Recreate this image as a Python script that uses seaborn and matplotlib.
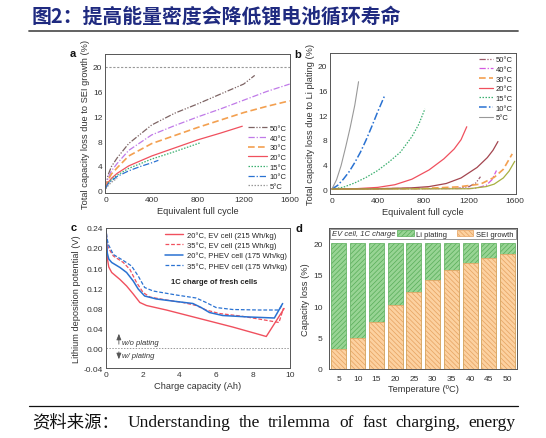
import matplotlib
matplotlib.use('Agg')
import matplotlib.pyplot as plt
import seaborn as sns
import numpy as np
import pandas as pd
from matplotlib.patches import Patch, Rectangle
from matplotlib.lines import Line2D
from matplotlib.ticker import MultipleLocator, FormatStrFormatter

# ---------------- data: panel a (SEI growth) ----------------
a50_x = [0, 20, 50, 100, 200, 400, 600, 800, 1000, 1200, 1296]
a50_y = [0.5, 2.5, 3.9, 5.3, 7.6, 10.6, 12.5, 14.0, 15.6, 17.2, 18.6]
a40_x = [0, 20, 50, 100, 200, 400, 600, 800, 1000, 1200, 1400, 1600]
a40_y = [0.5, 2.0, 3.2, 4.4, 6.5, 9.0, 10.5, 11.9, 13.2, 14.6, 16.0, 17.2]
a30_x = [0, 20, 50, 100, 200, 400, 600, 800, 1000, 1200, 1400, 1600]
a30_y = [0.5, 1.7, 2.7, 3.7, 5.6, 7.6, 8.9, 10.2, 11.4, 12.6, 13.6, 14.5]
a20_x = [0, 20, 50, 100, 200, 400, 600, 800, 1000, 1188]
a20_y = [0.4, 1.3, 2.0, 2.8, 4.0, 5.6, 6.9, 8.2, 9.3, 10.4]
a15_x = [0, 20, 50, 100, 200, 400, 600, 818]
a15_y = [0.4, 1.2, 1.8, 2.5, 3.6, 5.1, 6.3, 7.7]
a10_x = [0, 20, 50, 100, 200, 300, 400, 458]
a10_y = [0.4, 1.1, 1.6, 2.3, 3.2, 3.9, 4.5, 4.9]
a5_x = [0, 30, 60, 100]
a5_y = [0.3, 1.0, 1.5, 2.0]
a_limit_x = [-6, 1603]
a_limit_y = [20, 20]

# ---------------- data: panel b (Li plating) ----------------
b5_x = [0, 40, 80, 120, 160, 200, 233]
b5_y = [0, 1.5, 3.8, 6.8, 10.0, 13.6, 17.4]
b10_x = [0, 50, 100, 150, 200, 250, 300, 350, 400, 465]
b10_y = [0, 0.6, 1.6, 2.8, 4.3, 6.0, 8.0, 10.2, 12.5, 15.3]
b15_x = [0, 100, 200, 300, 400, 500, 600, 700, 760, 814]
b15_y = [0, 0.3, 1.0, 1.9, 3.0, 4.4, 6.0, 8.5, 10.5, 13.0]
b20_x = [0, 200, 400, 550, 700, 850, 980, 1070, 1130, 1180]
b20_y = [0, 0.05, 0.27, 0.7, 1.6, 3.1, 4.9, 6.5, 8.0, 10.1]
b25_x = [0, 400, 700, 850, 1000, 1130, 1270, 1360, 1410, 1453]
b25_y = [0, 0.05, 0.2, 0.4, 0.9, 1.8, 3.5, 5.1, 6.3, 7.7]
b30_x = [0, 800, 1100, 1300, 1420, 1500, 1578]
b30_y = [0, 0.1, 0.35, 0.8, 1.9, 3.2, 5.7]
b35_x = [0, 1200, 1350, 1420, 1500, 1550, 1600]
b35_y = [0, 0.05, 0.4, 0.8, 1.8, 2.9, 4.5]
b40_x = [0, 1250, 1350, 1400, 1440]
b40_y = [0, 0.1, 0.6, 1.5, 3.0]
b50_x = [0, 1100, 1200, 1260, 1300]
b50_y = [0, 0.1, 0.4, 1.0, 2.0]

# ---------------- data: panel c (Li deposition potential) ----------------
c_ev20_x = [0, 0.03, 0.07, 0.15, 0.31, 0.76, 1.12, 1.48, 1.84, 2.2, 3.28, 5.08, 6.88, 8.14, 8.71, 9.68]
c_ev20_y = [0.24, 0.21, 0.18, 0.162, 0.151, 0.137, 0.124, 0.108, 0.091, 0.085, 0.076, 0.059, 0.042, 0.029, 0.023, 0.079]
c_ev35_x = [0, 0.05, 0.13, 0.4, 0.94, 1.3, 1.66, 2.02, 2.38, 3.28, 4.18, 4.9, 5.44, 6.16, 7.3, 8.3, 9.4, 9.65]
c_ev35_y = [0.24, 0.215, 0.2, 0.184, 0.171, 0.157, 0.131, 0.111, 0.102, 0.096, 0.091, 0.085, 0.076, 0.069, 0.064, 0.058, 0.051, 0.080]
c_ph20_x = [0, 0.03, 0.07, 0.15, 0.31, 0.76, 1.12, 1.48, 1.75, 2.1, 2.74, 3.82, 4.72, 5.17, 5.62, 6.34, 7.78, 9.15, 9.6]
c_ph20_y = [0.24, 0.215, 0.19, 0.178, 0.171, 0.161, 0.151, 0.134, 0.118, 0.104, 0.098, 0.093, 0.089, 0.081, 0.071, 0.065, 0.062, 0.060, 0.089]
c_ph35_x = [0, 0.05, 0.13, 0.4, 0.94, 1.39, 1.75, 2.1, 2.56, 3.82, 4.9, 5.44, 5.98, 6.88, 8.32, 9.4, 9.57]
c_ph35_y = [0.24, 0.22, 0.207, 0.187, 0.175, 0.164, 0.144, 0.121, 0.114, 0.106, 0.100, 0.091, 0.081, 0.077, 0.076, 0.076, 0.086]

# ---------------- data: panel d (capacity loss split) ----------------
d_temps = ['5', '10', '15', '20', '25', '30', '35', '40', '45', '50']
d_sei = [3.1, 5.0, 7.5, 10.1, 12.3, 14.2, 15.7, 16.8, 17.6, 18.2]
d_li = [16.9, 15.0, 12.5, 9.9, 7.7, 5.8, 4.3, 3.2, 2.4, 1.8]

title_text = '图2：提高能量密度会降低锂电池循环寿命'
source_words = ['资料来源：', 'Understanding', 'the', 'trilemma', 'of', 'fast', 'charging,', 'energy']

# ---------------- style ----------------
sns.set_theme(style='white')
plt.rcParams['font.family'] = ['Liberation Sans', 'DejaVu Sans']
plt.rcParams['hatch.linewidth'] = 0.5
plt.rcParams['axes.linewidth'] = 0.7
plt.rcParams['axes.edgecolor'] = '#555555'

LS_DDD = (0, (5, 1.3, 1, 1.3, 1, 1.3))
LS_DD = (0, (5, 1.5, 1, 1.5))
LS_DASH = (0, (4, 2))
LS_DOT = (0, (1.2, 1.2))
LS_SOLID = '-'

C50, C40, C30, C20 = '#7d6464', '#c07ae8', '#f3a050', '#f0505e'
C15, C10, C5 = '#3cb070', '#2a72d2', '#999999'
TICK = 6.0
LEG = 5.5
LAB = 6.7

W, H = 546, 439
fig = plt.figure(figsize=(W / 100, H / 100), dpi=100)


def box(l, t, r, b):
    return [l / W, 1 - b / H, (r - l) / W, (b - t) / H]


def line(ax, xs, ys, color, ls, label=None, lw=0.9):
    kw = dict(x=xs, y=ys, ax=ax, color=color, linestyle=ls, lw=lw, sort=False, estimator=None)
    if label is not None:
        kw['label'] = label
    sns.lineplot(**kw)


def style_ticks(ax, direction='in'):
    ax.tick_params(which='both', direction=direction, labelsize=TICK, colors='#444444',
                   labelcolor='#333333', pad=2)
    ax.tick_params(which='major', length=2.5, width=0.6)
    ax.tick_params(which='minor', length=1.5, width=0.5)


# ---------------- panel a ----------------
axa = fig.add_axes(box(105, 55, 290, 194))
line(axa, a_limit_x, a_limit_y, '#999999', (0, (2, 1.5)), lw=0.8)
line(axa, a50_x, a50_y, C50, LS_DDD, '50°C')
line(axa, a40_x, a40_y, C40, LS_DD, '40°C')
line(axa, a30_x, a30_y, C30, LS_DASH, '30°C', lw=1.2)
line(axa, a20_x, a20_y, C20, LS_SOLID, '20°C')
line(axa, a15_x, a15_y, C15, LS_DOT, '15°C')
line(axa, a10_x, a10_y, C10, LS_DD, '10°C')
line(axa, a5_x, a5_y, C5, LS_DOT, '5°C')
axa.set_xlim(-6, 1603)
axa.set_ylim(-0.37, 22.05)
axa.xaxis.set_major_locator(MultipleLocator(400))
axa.xaxis.set_minor_locator(MultipleLocator(200))
axa.yaxis.set_major_locator(MultipleLocator(4))
axa.yaxis.set_minor_locator(MultipleLocator(2))
style_ticks(axa)
axa.set_xlabel('Equivalent full cycle', fontsize=LAB, color='#333333', labelpad=2)
axa.set_ylabel('Total capacity loss due to SEI growth (%)', fontsize=LAB, color='#333333', labelpad=2)
axa.legend(loc='lower right', fontsize=LEG, frameon=False, handlelength=2.5, labelspacing=0.3,
           handletextpad=0.4, borderaxespad=0.2, borderpad=0.2)

# ---------------- panel b ----------------
axb = fig.add_axes(box(330, 54, 516, 195))
line(axb, b50_x, b50_y, '#9c5b6b', LS_DDD, '50°C')
line(axb, b40_x, b40_y, '#d45ae0', LS_DD, '40°C')
line(axb, b30_x, b30_y, C30, LS_DASH, '30°C', lw=1.2)
line(axb, b20_x, b20_y, C20, LS_SOLID, '20°C')
line(axb, b15_x, b15_y, C15, LS_DOT, '15°C')
line(axb, b10_x, b10_y, C10, LS_DD, '10°C', lw=1.1)
line(axb, b5_x, b5_y, C5, LS_SOLID, '5°C', lw=0.8)
line(axb, b25_x, b25_y, '#a3454f', LS_SOLID)
line(axb, b35_x, b35_y, '#a8b040', LS_SOLID)
axb.set_xlim(-17, 1611)
axb.set_ylim(-0.8, 22.05)
axb.xaxis.set_major_locator(MultipleLocator(400))
axb.xaxis.set_minor_locator(MultipleLocator(200))
axb.yaxis.set_major_locator(MultipleLocator(4))
axb.yaxis.set_minor_locator(MultipleLocator(2))
style_ticks(axb)
axb.set_xlabel('Equivalent full cycle', fontsize=LAB, color='#333333', labelpad=2)
axb.set_ylabel('Total capacity loss due to Li plating (%)', fontsize=LAB, color='#333333', labelpad=2)
hb, lb = axb.get_legend_handles_labels()
axb.legend(hb[:7], lb[:7], loc='upper right', fontsize=LEG, frameon=False, handlelength=1.8,
           labelspacing=0.3, handletextpad=0.4, borderaxespad=0.2, borderpad=0.2)

# ---------------- panel c ----------------
axc = fig.add_axes(box(106, 229, 290, 369))
RC, BC = '#f0505e', '#2a72d2'
axc.axhline(0, color='#999999', lw=0.7, linestyle=(0, (1.5, 1.5)))
line(axc, c_ev20_x, c_ev20_y, RC, LS_SOLID, '20°C, EV cell (215 Wh/kg)', lw=1.0)
line(axc, c_ev35_x, c_ev35_y, RC, (0, (3, 1.5)), '35°C, EV cell (215 Wh/kg)', lw=0.9)
line(axc, c_ph20_x, c_ph20_y, BC, LS_SOLID, '20°C, PHEV cell (175 Wh/kg)', lw=1.1)
line(axc, c_ph35_x, c_ph35_y, BC, (0, (3, 1.5)), '35°C, PHEV cell (175 Wh/kg)', lw=0.9)
axc.set_xlim(0, 10)
axc.set_ylim(-0.04, 0.24)
axc.xaxis.set_major_locator(MultipleLocator(2))
axc.xaxis.set_minor_locator(MultipleLocator(1))
axc.yaxis.set_major_locator(MultipleLocator(0.04))
axc.yaxis.set_minor_locator(MultipleLocator(0.02))
axc.yaxis.set_major_formatter(FormatStrFormatter('%.2f'))
style_ticks(axc)
axc.set_xlabel('Charge capacity (Ah)', fontsize=LAB, color='#333333', labelpad=2)
axc.set_ylabel('Lithium deposition potential (V)', fontsize=LAB, color='#333333', labelpad=2)
axc.legend(loc='upper right', fontsize=LEG, frameon=False, handlelength=2.4, labelspacing=0.35,
           handletextpad=0.5, borderaxespad=0.2, borderpad=0.2)
axc.annotate('', xy=(0.7, 0.034), xytext=(0.7, 0.002),
             arrowprops=dict(arrowstyle='-|>,head_length=0.3,head_width=0.12', color='#555555', lw=0.6))
axc.annotate('', xy=(0.7, -0.028), xytext=(0.7, -0.002),
             arrowprops=dict(arrowstyle='-|>,head_length=0.3,head_width=0.12', color='#555555', lw=0.6))
axc.text(0.85, 0.011, 'w/o plating', fontsize=LEG, style='italic', color='#333333', va='center')
axc.text(0.85, -0.014, 'w/ plating', fontsize=LEG, style='italic', color='#333333', va='center')
axc.text(5.9, 0.133, '1C charge of fresh cells', fontsize=LEG, fontweight='bold', color='#222222',
         ha='center', va='center')

# ---------------- panel d ----------------
axd = fig.add_axes(box(329, 229, 517, 370))
GF, GE = '#98d494', '#58ad58'
OF, OE = '#fcd1a0', '#e6a260'
d_total = [s + l for s, l in zip(d_sei, d_li)]
sns.barplot(x=d_temps, y=d_total, ax=axd, color=GF, saturation=1, width=0.8, errorbar=None,
            edgecolor=GE, linewidth=0.5)
sns.barplot(x=d_temps, y=d_sei, ax=axd, color=OF, saturation=1, width=0.8, errorbar=None,
            edgecolor=OE, linewidth=0.5)
for i, p in enumerate(axd.patches):
    if i < len(d_temps):
        p.set_hatch('///////')
    else:
        p.set_hatch('\\\\\\\\\\\\\\')
axd.set_xlim(-0.53, 9.5)
axd.set_ylim(0, 22.4)
axd.yaxis.set_major_locator(MultipleLocator(5))
style_ticks(axd, direction='out')
axd.tick_params(axis='x', which='major', length=2)
axd.set_xlabel('Temperature (ºC)', fontsize=LAB, color='#333333', labelpad=2)
axd.set_ylabel('Capacity loss (%)', fontsize=LAB, color='#333333', labelpad=2)
axd.add_patch(Rectangle((-0.45, 20.6), 9.88, 1.68, facecolor='white', edgecolor='#888888', lw=0.6, zorder=3))
axd.text(-0.38, 21.45, 'EV cell, 1C charge', fontsize=LEG, style='italic', color='#333333',
         va='center', zorder=4)
hd = [Patch(facecolor=GF, edgecolor=GE, hatch='///////', lw=0.5, label='Li plating'),
      Patch(facecolor=OF, edgecolor=OE, hatch='\\\\\\\\\\\\\\', lw=0.5, label='SEI growth')]
legd = axd.legend(handles=hd, loc='center right', bbox_to_anchor=(1.0, 21.45 / 22.4), ncol=2,
                  fontsize=LEG, frameon=False, handlelength=2.2, handleheight=0.9,
                  handletextpad=0.3, columnspacing=1.2, borderaxespad=0.3, borderpad=0.2)
legd.set_zorder(5)

# ---------------- panel letters ----------------
for lx, ly, lt in [(73, 54, 'a'), (298, 55, 'b'), (74, 228, 'c'), (299, 229, 'd')]:
    fig.text(lx / W, 1 - ly / H, lt, fontsize=8, fontweight='bold', ha='center', va='center', color='#111111')

# ---------------- title, rules, source ----------------
fig.text(32 / W, 1 - 16 / H, title_text, fontsize=14.3, fontweight='bold',
         color='#1f2a80', ha='left', va='center', family=['Noto Sans CJK SC', 'DejaVu Sans'])
fig.add_artist(Line2D([29 / W, 518 / W], [1 - 32 / H, 1 - 32 / H], color='#555555', lw=1.3))
fig.add_artist(Line2D([29 / W, 518 / W], [1 - 407 / H, 1 - 407 / H], color='#111111', lw=0.9))

# justified source line
renderer = fig.canvas.get_renderer()
src_fam = ['Liberation Serif', 'Noto Sans CJK SC']
src_texts = [fig.text(0, 1 - 423 / H, w, fontsize=12.5, color='#111111', ha='left', va='center',
                      family=src_fam) for w in source_words]
widths = [t.get_window_extent(renderer).width for t in src_texts]
x0, x1 = 32.0, 516.0
gap = (x1 - x0 - sum(widths)) / (len(widths) - 1)
xpos = x0
for t, wdt in zip(src_texts, widths):
    t.set_x(xpos / W)
    xpos += wdt + gap

fig.savefig('out.png', dpi=100)
